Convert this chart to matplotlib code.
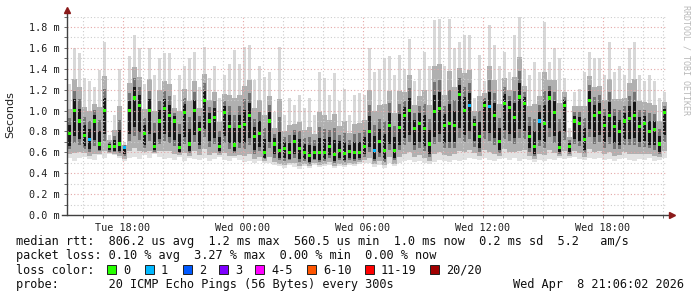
import numpy as np
import matplotlib.pyplot as plt
from matplotlib.lines import Line2D
from matplotlib.patches import Rectangle

# time axis: hours since Tue 00:00, 15-minute slots from Tue 15:12 to Wed 21:12
t_start = 15.2
slot = 0.25

# median rtt per slot (ms)
median = [0.78, 1.0, 0.9, 0.76, 0.72, 0.9, 0.68, 1.0, 0.66, 0.66, 0.68, 0.65, 1.0, 1.12, 1.05, 0.78, 1.0, 0.66, 0.9, 1.02,
          0.95, 0.9, 0.65, 0.98, 0.68, 1.0, 0.82, 1.1, 0.9, 0.93, 0.66, 0.98, 0.85, 0.67, 0.85, 0.87, 0.95, 0.75, 0.78, 0.6,
          0.9, 0.68, 0.62, 0.64, 0.6, 0.7, 0.64, 0.6, 0.57, 0.6, 0.6, 0.6, 0.66, 0.58, 0.62, 0.59, 0.61, 0.6, 0.6, 0.66,
          0.8, 0.62, 0.7, 0.62, 0.86, 0.62, 0.84, 0.95, 1.0, 0.83, 0.88, 0.83, 0.68, 0.99, 1.02, 0.86, 0.88, 0.86, 1.15, 1.0,
          1.05, 0.87, 0.75, 1.05, 1.04, 0.95, 0.7, 1.07, 1.03, 0.93, 1.13, 1.07, 0.75, 0.66, 0.9, 0.88, 1.12, 0.98, 0.65, 1.05,
          0.66, 0.9, 0.88, 0.72, 1.1, 0.95, 0.98, 0.86, 0.95, 0.85, 0.8, 0.9, 0.92, 0.95, 0.85, 0.88, 0.8, 0.82, 0.68, 0.98]

# slowest ping per slot (ms)
hi = [1.25, 1.6, 1.55, 1.31, 1.28, 1.23, 1.39, 1.66, 0.77, 0.96, 1.4, 0.70, 1.52, 1.72, 1.6, 1.25, 1.6, 1.34, 1.5, 1.55,
      1.55, 1.15, 1.34, 1.43, 1.5, 1.56, 1.23, 1.61, 1.31, 1.43, 1.12, 1.34, 1.45, 1.58, 1.45, 1.61, 1.63, 1.29, 1.43, 1.32,
      1.37, 0.99, 1.61, 0.96, 1.12, 1.05, 1.15, 1.02, 1.12, 0.96, 1.37, 1.31, 1.15, 1.36, 1.09, 1.21, 0.96, 1.15, 1.17, 1.15,
      1.6, 1.37, 1.4, 1.5, 1.52, 1.34, 1.53, 1.4, 1.69, 1.28, 1.4, 1.56, 1.43, 1.87, 1.88, 1.43, 1.88, 1.6, 1.66, 1.72,
      1.72, 1.12, 1.53, 1.28, 1.82, 1.63, 1.43, 1.56, 1.37, 1.72, 1.9, 1.4, 1.34, 1.47, 1.37, 1.85, 1.47, 1.6, 1.5, 1.31,
      0.83, 1.18, 1.21, 1.37, 1.56, 1.5, 1.5, 1.34, 1.66, 1.37, 1.43, 1.34, 1.6, 1.66, 1.34, 1.28, 1.34, 1.28, 1.12, 1.18]

# fastest ping per slot (ms)
lo = [0.55, 0.52, 0.55, 0.56, 0.54, 0.53, 0.57, 0.55, 0.58, 0.57, 0.55, 0.52, 0.55, 0.56, 0.54, 0.57, 0.55, 0.58, 0.56, 0.54,
      0.55, 0.53, 0.56, 0.52, 0.55, 0.54, 0.53, 0.55, 0.52, 0.54, 0.56, 0.53, 0.52, 0.55, 0.53, 0.51, 0.52, 0.5, 0.52, 0.5,
      0.5, 0.48, 0.47, 0.45, 0.48, 0.46, 0.44, 0.47, 0.45, 0.48, 0.46, 0.47, 0.48, 0.45, 0.47, 0.46, 0.48, 0.47, 0.49, 0.5,
      0.5, 0.46, 0.48, 0.45, 0.5, 0.47, 0.5, 0.52, 0.53, 0.51, 0.52, 0.5, 0.49, 0.51, 0.53, 0.52, 0.51, 0.53, 0.52, 0.53,
      0.55, 0.54, 0.53, 0.55, 0.53, 0.52, 0.54, 0.55, 0.53, 0.55, 0.52, 0.54, 0.53, 0.51, 0.53, 0.52, 0.54, 0.53, 0.55, 0.54,
      0.55, 0.56, 0.54, 0.53, 0.55, 0.54, 0.55, 0.53, 0.54, 0.52, 0.54, 0.55, 0.53, 0.52, 0.54, 0.53, 0.55, 0.52, 0.53, 0.55]

# lost pings per slot (of 20)
loss = [0] * 120
for i in [4, 11, 61, 80, 84, 94]:
    loss[i] = 1

loss_labels = ['0', '1', '2', '3', '4-5', '6-10', '11-19', '20/20']
loss_colors = ['#26ff00', '#00b8ff', '#0059ff', '#7e00ff', '#ff00ff', '#ff5500', '#ff0000', '#a10000']

tick_hours = [18, 24, 30, 36, 42]
tick_labels = ['Tue 18:00', 'Wed 00:00', 'Wed 06:00', 'Wed 12:00', 'Wed 18:00']

rtt_line = 'median rtt:  806.2 us avg  1.2 ms max  560.5 us min  1.0 ms now  0.2 ms sd  5.2   am/s'
loss_line = 'packet loss: 0.10 % avg  3.27 % max  0.00 % min  0.00 % now'
probe_line = 'probe:       20 ICMP Echo Pings (56 Bytes) every 300s'
stamp = 'Wed Apr  8 21:06:02 2026'

W, H = 697, 297
fig = plt.figure(figsize=(W / 100, H / 100), dpi=100)
fig.patch.set_facecolor('white')
ax = fig.add_axes([67 / W, 1 - 215 / H, 600 / W, (215 - 16.6) / H])

med = np.array(median)
up = np.array(hi)
dn = np.array(lo)
x = t_start + slot / 2 + slot * np.arange(len(med))

# smoke: nested bands, darker and thinner toward the median
ax.bar(x, med - dn, bottom=dn, width=slot, color='#e2e2e2', linewidth=0, zorder=2)
ax.bar(x, up - med, bottom=med, width=0.6 * slot, color='#d8d8d8', linewidth=0, zorder=2)
layers = [(0.85, 0.5, 0.85, '#b0b0b0'), (0.65, 0.32, 0.7, '#747474'),
          (0.5, 0.18, 0.55, '#161616')]
for fl, fu, w, col in layers:
    b = med - fl * (med - dn)
    t = med + fu * (up - med)
    ax.bar(x, t - b, bottom=b, width=w * slot, color=col, linewidth=0, zorder=2)

# median markers coloured by loss
def loss_idx(n):
    if n <= 3:
        return n
    if n <= 5:
        return 4
    if n <= 10:
        return 5
    if n <= 19:
        return 6
    return 7

mcol = [loss_colors[loss_idx(n)] for n in loss]
ax.bar(x, 0.03, bottom=med - 0.015, width=0.16, color=mcol, linewidth=0, zorder=4)

ax.set_xlim(t_start, t_start + 30)
ax.set_ylim(0, 1.9)
ax.set_xticks(tick_hours)
ax.set_xticklabels(tick_labels)
ax.set_xticks(np.arange(16, 46, 1), minor=True)
yt = np.arange(0, 1.81, 0.2)
ax.set_yticks(yt)
ax.set_yticklabels([f'{v:.1f} m' for v in yt])
ax.set_yticks(np.arange(0.1, 1.91, 0.1), minor=True)

ax.grid(which='minor', color='#cdcdcd', linestyle=(0, (1, 2)), linewidth=0.8, zorder=3)
ax.grid(which='major', color='#e4a8a8', linestyle=(0, (1, 2)), linewidth=0.8, zorder=3)
ax.set_axisbelow(False)

for s in ax.spines.values():
    s.set_visible(False)
ax.tick_params(which='both', length=2, width=0.6, color='#505050', labelsize=7.3, pad=3)
ax.tick_params(axis='x', which='both', pad=4)
for lab in ax.get_xticklabels() + ax.get_yticklabels():
    lab.set_family('DejaVu Sans Mono')
    lab.set_color('#202020')

# axis lines with arrows
fig.add_artist(Line2D([67 / W, 67 / W], [1 - 215 / H, 1 - 12 / H], color='#404040', lw=1))
fig.add_artist(Line2D([62 / W, 670 / W], [1 - 215 / H, 1 - 215 / H], color='#404040', lw=1))
fig.add_artist(Line2D([67 / W], [1 - 9.5 / H], marker='^', color='#8b1a1a', markersize=4, lw=0))
fig.add_artist(Line2D([672 / W], [1 - 215 / H], marker='>', color='#8b1a1a', markersize=4, lw=0))

fig.text(10 / W, 1 - 115 / H, 'Seconds', rotation=90, ha='center', va='center',
         fontsize=8, family='DejaVu Sans', color='#202020')
fig.text(686 / W, 1 - 5 / H, 'RRDTOOL / TOBI OETIKER', rotation=270, ha='center', va='top',
         fontsize=6, family='DejaVu Sans Mono', color='#b8b8b8')

mono = dict(family='DejaVu Sans Mono', fontsize=8.55, color='#101010', va='baseline')

def put(px, py, s):
    fig.text(px / W, 1 - py / H, s, **mono)

put(16, 244.5, rtt_line)
put(16, 259, loss_line)
put(16, 273.5, 'loss color:')
box_x = [107, 145, 183, 219, 255, 307, 365, 430]
for bx, lab, col in zip(box_x, loss_labels, loss_colors):
    fig.add_artist(Rectangle((bx / W, 1 - 274 / H), 9 / W, 9 / H, facecolor=col,
                             edgecolor='#202020', linewidth=0.7))
    put(bx + 16, 273.5, lab)
put(16, 288, probe_line)
put(513, 288, stamp)

fig.savefig('out.png', dpi=100, facecolor='white')
